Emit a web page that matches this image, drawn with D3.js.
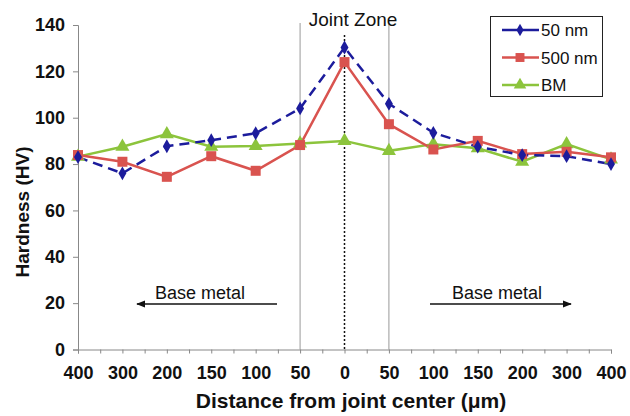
<!DOCTYPE html>
<html>
<head>
<meta charset="utf-8">
<script src="https://cdn.jsdelivr.net/npm/d3@7"></script>
<style>
  body { margin: 0; background: #fff; }
  svg text { font-family: Arial, "Liberation Sans", sans-serif; fill: #111; }
</style>
</head>
<body>
<div id="chart"></div>
<script>
// categories along the x axis (distance from joint center, um)
const categories = ['400', '300', '200', '150', '100', '50', '0', '50', '100', '150', '200', '300', '400'];
const nm50 = [83, 76, 87.7, 90.3, 93.3, 104, 130.3, 106, 93.5, 87.5, 83.9, 83.4, 80];
const nm500 = [83.9, 81, 74.5, 83.4, 77.1, 88.2, 124, 97.2, 86.3, 90, 84.3, 85.3, 82.9];
const bm = [83.2, 87.5, 92.9, 87.5, 87.8, 88.9, 90, 85.7, 88.6, 86.8, 81, 88.6, 82];
const yTicks = [0, 20, 40, 60, 80, 100, 120, 140];
const zoneLines = [5, 7];   // category index of the gray lines
const centerLine = 6;

const width = 630, height = 416;
const plotLeft = 78, plotRight = 611, plotTop = 25, plotBottom = 349.5;

const svg = d3.select('#chart').append('svg')
  .attr('width', width)
  .attr('height', height);

const x = d3.scaleLinear().domain([0, categories.length - 1]).range([plotLeft, plotRight]);
const y = d3.scaleLinear().domain([0, 140]).range([plotBottom, plotTop]);

// arrow marker
svg.append('defs').append('marker')
  .attr('id', 'arr')
  .attr('viewBox', '0 0 10 10')
  .attr('refX', 9).attr('refY', 5)
  .attr('markerWidth', 6).attr('markerHeight', 6)
  .attr('orient', 'auto-start-reverse')
  .append('path')
  .attr('d', 'M0,1 L10,5 L0,9 Z')
  .attr('fill', '#111');

// zone lines
svg.selectAll('.zone')
  .data(zoneLines)
  .enter()
  .append('line')
  .attr('x1', d => x(d)).attr('x2', d => x(d))
  .attr('y1', y(140) - 2).attr('y2', y(0))
  .attr('stroke', '#999')
  .attr('stroke-width', 1);

svg.append('line')
  .attr('x1', x(centerLine)).attr('x2', x(centerLine))
  .attr('y1', 35).attr('y2', y(0))
  .attr('stroke', '#111')
  .attr('stroke-width', 1.5)
  .attr('stroke-dasharray', '2,2');

svg.append('text')
  .attr('x', 353)
  .attr('y', 26)
  .attr('text-anchor', 'middle')
  .style('font-size', '19px')
  .text('Joint Zone');

// y axis
const yAxis = svg.append('g')
  .attr('transform', `translate(${plotLeft},0)`)
  .call(d3.axisLeft(y).tickValues(yTicks).tickSize(5).tickPadding(8));
yAxis.selectAll('text').style('font-size', '18px').style('font-weight', 'bold').attr('fill', '#111');

// x axis: ticks at categories and midpoints
const xAxis = svg.append('g')
  .attr('transform', `translate(0,${plotBottom})`)
  .call(d3.axisBottom(x)
    .tickValues(d3.range(0, categories.length - 0.5, 0.5))
    .tickSize(4)
    .tickPadding(13)
    .tickFormat(d => Number.isInteger(d) ? categories[d] : ''));
xAxis.selectAll('text').style('font-size', '18px').style('font-weight', 'bold').attr('fill', '#111');

[yAxis, xAxis].forEach(g => {
  g.select('.domain').attr('stroke', '#888');
  g.selectAll('.tick line').attr('stroke', '#888');
});

// axis titles
svg.append('text')
  .attr('transform', 'translate(29,212) rotate(-90)')
  .attr('text-anchor', 'middle')
  .style('font-size', '19px')
  .style('font-weight', 'bold')
  .text('Hardness (HV)');

svg.append('text')
  .attr('x', 351)
  .attr('y', 408)
  .attr('text-anchor', 'middle')
  .style('font-size', '21px')
  .style('font-weight', 'bold')
  .text('Distance from joint center (\u03BCm)');

// base metal notes
svg.append('text')
  .attr('x', 200).attr('y', 299)
  .attr('text-anchor', 'middle')
  .style('font-size', '18px')
  .text('Base metal');
svg.append('line')
  .attr('x1', 277).attr('x2', 137).attr('y1', 304).attr('y2', 304)
  .attr('stroke', '#111').attr('stroke-width', 1.5)
  .attr('marker-end', 'url(#arr)');

svg.append('text')
  .attr('x', 497).attr('y', 299)
  .attr('text-anchor', 'middle')
  .style('font-size', '18px')
  .text('Base metal');
svg.append('line')
  .attr('x1', 430).attr('x2', 571).attr('y1', 304).attr('y2', 304)
  .attr('stroke', '#111').attr('stroke-width', 1.5)
  .attr('marker-end', 'url(#arr)');

// series
const series = [
  { name: '50 nm', values: nm50, color: '#1c1c9c', dash: '10,6', shape: d3.symbolDiamond, size: 55 },
  { name: '500 nm', values: nm500, color: '#d9534f', dash: null, shape: d3.symbolSquare, size: 100 },
  { name: 'BM', values: bm, color: '#8cc43c', dash: null, shape: d3.symbolTriangle, size: 85 }
];

const line = d3.line()
  .x((d, i) => x(i))
  .y(d => y(d));

series.slice().reverse().forEach(s => {
  svg.append('path')
    .datum(s.values)
    .attr('d', line)
    .attr('fill', 'none')
    .attr('stroke', s.color)
    .attr('stroke-width', 2.5)
    .attr('stroke-dasharray', s.dash);
});

series.slice().reverse().forEach(s => {
  svg.selectAll(null)
    .data(s.values)
    .enter()
    .append('path')
    .attr('d', d3.symbol().type(s.shape).size(s.size))
    .attr('transform', (d, i) => `translate(${x(i)},${y(d)})`)
    .attr('fill', s.color);
});

// legend
const legend = svg.append('g');
legend.append('rect')
  .attr('x', 490.5).attr('y', 16.5)
  .attr('width', 112).attr('height', 80)
  .attr('fill', '#fff')
  .attr('stroke', '#222')
  .attr('stroke-width', 1);

series.forEach((s, i) => {
  const ly = 30 + i * 27.5;
  legend.append('line')
    .attr('x1', 502).attr('x2', 539)
    .attr('y1', ly).attr('y2', ly)
    .attr('stroke', s.color)
    .attr('stroke-width', 2.5);
  legend.append('path')
    .attr('d', d3.symbol().type(s.shape).size(s.size * 0.8))
    .attr('transform', `translate(520,${ly})`)
    .attr('fill', s.color);
  legend.append('text')
    .attr('x', 541).attr('y', ly + 6)
    .style('font-size', '17px')
    .text(s.name);
});
</script>
</body>
</html>
